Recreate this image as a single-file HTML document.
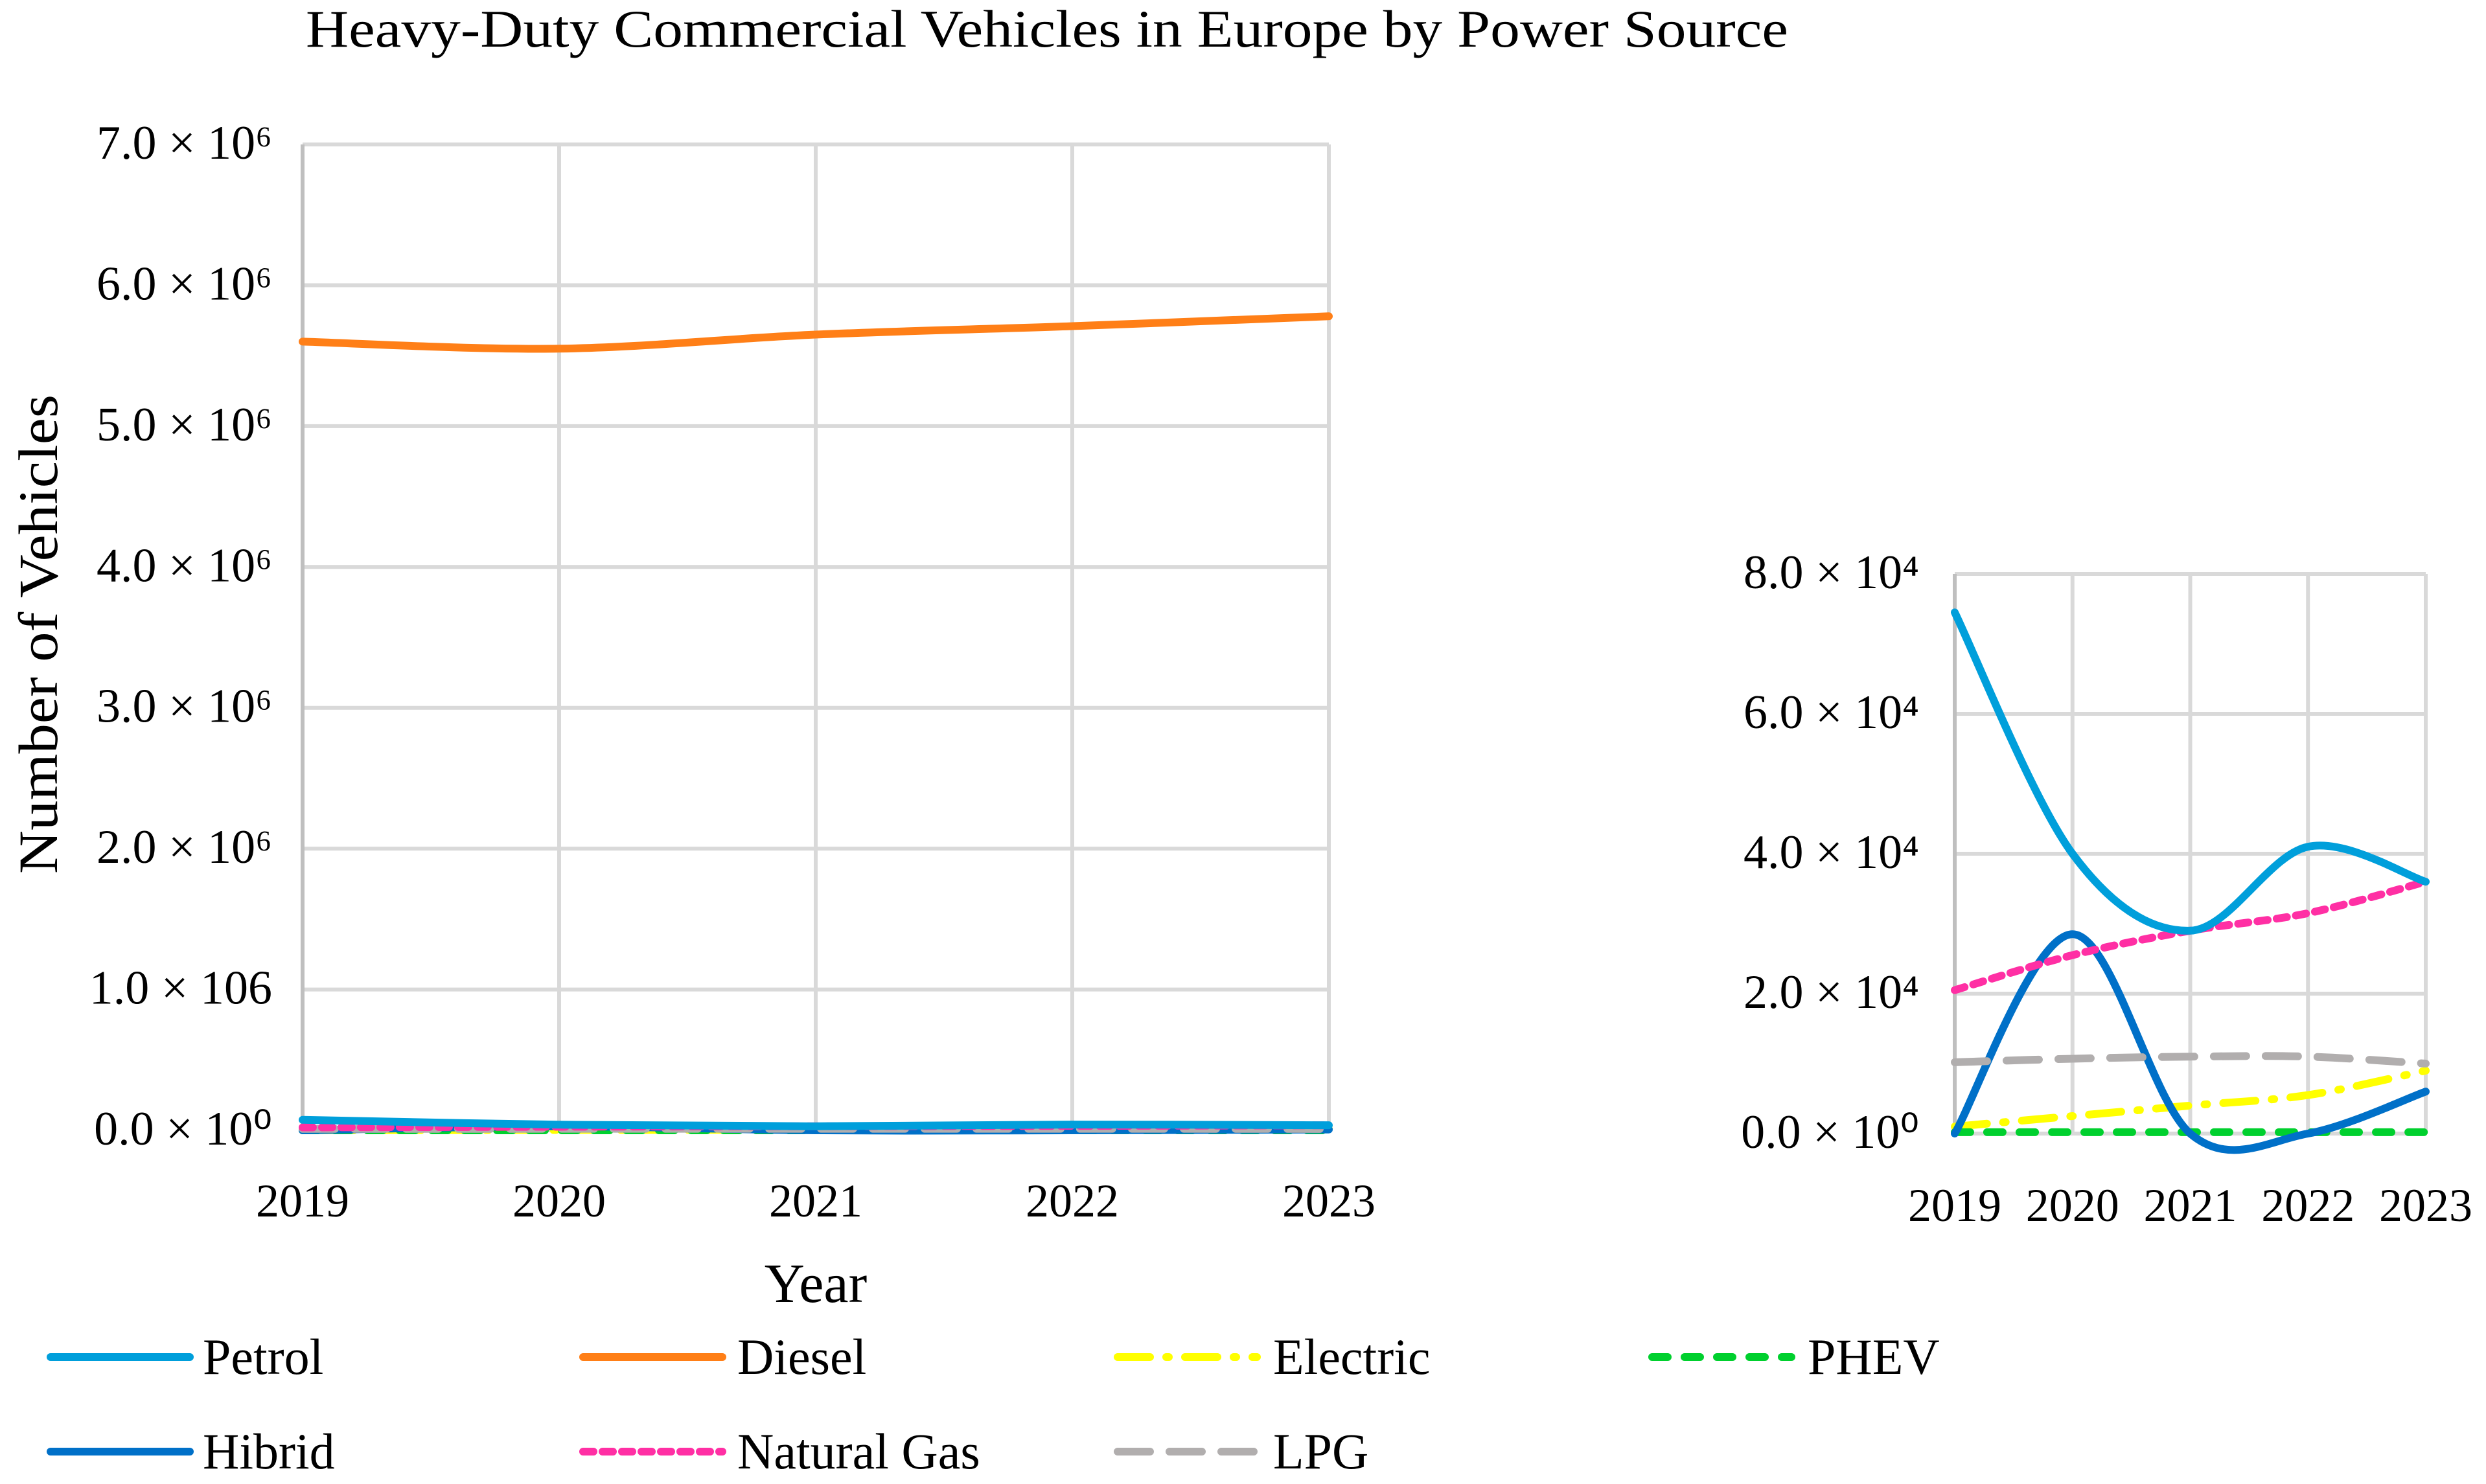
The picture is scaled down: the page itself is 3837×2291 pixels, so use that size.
<!DOCTYPE html>
<html><head><meta charset="utf-8"><style>
html,body{margin:0;padding:0;background:#fff;}
svg{display:block;font-family:"Liberation Serif",serif;}
</style></head><body>
<svg id="chart" width="3837" height="2291" viewBox="0 0 3837 2291" xmlns="http://www.w3.org/2000/svg">
<rect width="3837" height="2291" fill="#fff"/>
<text x="472" y="72" font-size="82" textLength="2288" lengthAdjust="spacingAndGlyphs">Heavy-Duty Commercial Vehicles in Europe by Power Source</text>
<g id="main"></g><g id="inset"></g><g id="legend"></g>
<text transform="translate(88,979) rotate(-90)" font-size="86" text-anchor="middle" textLength="740" lengthAdjust="spacingAndGlyphs">Number of Vehicles</text>
<text x="1259" y="2010" font-size="86" text-anchor="middle">Year</text>
</svg>
<script>
const years=[2019,2020,2021,2022,2023];
const petrol=[74500,40000,29000,41000,36000];
const diesel=[5600000,5550000,5650000,5710000,5780000];
const electric=[1000,2500,4000,5500,9000];
const phev=[200,200,200,200,200];
const hibrid=[0,28500,0,0,6000];
const naturalGas=[20500,25500,29000,31500,36000];
const lpg=[10200,10700,11000,11000,10000];
const mainTicks=["0.0 × 10⁰","1.0 × 106","2.0 × 10⁶","3.0 × 10⁶","4.0 × 10⁶","5.0 × 10⁶","6.0 × 10⁶","7.0 × 10⁶"];
const insetTicks=["0.0 × 10⁰","2.0 × 10⁴","4.0 × 10⁴","6.0 × 10⁴","8.0 × 10⁴"];
const NS="http://www.w3.org/2000/svg";
function mk(t,a,p){const e=document.createElementNS(NS,t);for(const k in a)e.setAttribute(k,a[k]);p.appendChild(e);return e;}
const series=[
 {key:"petrol",label:"Petrol",data:petrol,color:"#009fdb",dash:""},
 {key:"diesel",label:"Diesel",data:diesel,color:"#ff7f17",dash:""},
 {key:"electric",label:"Electric",data:electric,color:"#ffff00",dash:"50 25 4 25"},
 {key:"phev",label:"PHEV",data:phev,color:"#00d02e",dash:"24 26"},
 {key:"hibrid",label:"Hibrid",data:hibrid,color:"#0070c8",dash:""},
 {key:"natural-gas",label:"Natural Gas",data:naturalGas,color:"#ff2fa4",dash:"16 14"},
 {key:"lpg",label:"LPG",data:lpg,color:"#b1aeae",dash:"50 30"}];
function smooth(pts){let d="M"+pts[0][0]+","+pts[0][1];
 for(let i=0;i<pts.length-1;i++){const p0=pts[Math.max(i-1,0)],p1=pts[i],p2=pts[i+1],p3=pts[Math.min(i+2,pts.length-1)];
 const c1=[p1[0]+(p2[0]-p0[0])/6,p1[1]+(p2[1]-p0[1])/6],c2=[p2[0]-(p3[0]-p1[0])/6,p2[1]-(p3[1]-p1[1])/6];
 d+=" C"+c1+" "+c2+" "+p2;}return d;}
function panel(g,L,R,T,B,max,ticks,tickX,tickFont,yearY,name){
 const xs=i=>L+(R-L)*i/(years.length-1), ys=v=>B-(B-T)*v/max;
 ticks.forEach((t,i)=>{const y=B-(B-T)*i/(ticks.length-1);
  const gl=mk("line",{x1:L,x2:R,y1:y,y2:y,stroke:"#d9d9d9","stroke-width":6},g);
  
  const tx=mk("text",{x:tickX,y:y+22,"font-size":tickFont,"text-anchor":"end"},g);tx.textContent=t;
  });
 years.forEach((yr,i)=>{const x=xs(i);
  const gl=mk("line",{x1:x,x2:x,y1:T,y2:B,stroke:"#d9d9d9","stroke-width":6},g);
  
  const tx=mk("text",{x:x,y:yearY,"font-size":72,"text-anchor":"middle"},g);tx.textContent=yr;
  });
 const ax=mk("line",{x1:L,x2:L,y1:T,y2:B,stroke:"#bfbfbf","stroke-width":6},g);
 
 [2,3,4,6,5,0,1].forEach(si=>{const s=series[si];
  const p=mk("path",{d:smooth(s.data.map((v,i)=>[xs(i),ys(v)])),fill:"none",stroke:s.color,"stroke-width":12,"stroke-linecap":"round","stroke-dasharray":s.dash},g);
  });
}
panel(document.getElementById("main"),467,2051,223,1745,7000000,mainTicks,420,74,1878,'main');
panel(document.getElementById("inset"),3017,3744,886,1750,80000,insetTicks,2962,74,1885,'inset');
const lg=document.getElementById("legend");
const cols=[[78,313],[900,1138],[1725,1965],[2550,2790]];
series.forEach((s,i)=>{const c=cols[i%4],y=i<4?2095:2241;
 const g=mk("g",{},lg);
 mk("line",{x1:c[0],x2:c[0]+215,y1:y,y2:y,stroke:s.color,"stroke-width":12,"stroke-linecap":"round","stroke-dasharray":s.dash},g);
 const t=mk("text",{x:c[1],y:y+26,"font-size":78},g);t.textContent=s.label;});
</script>
</body></html>
